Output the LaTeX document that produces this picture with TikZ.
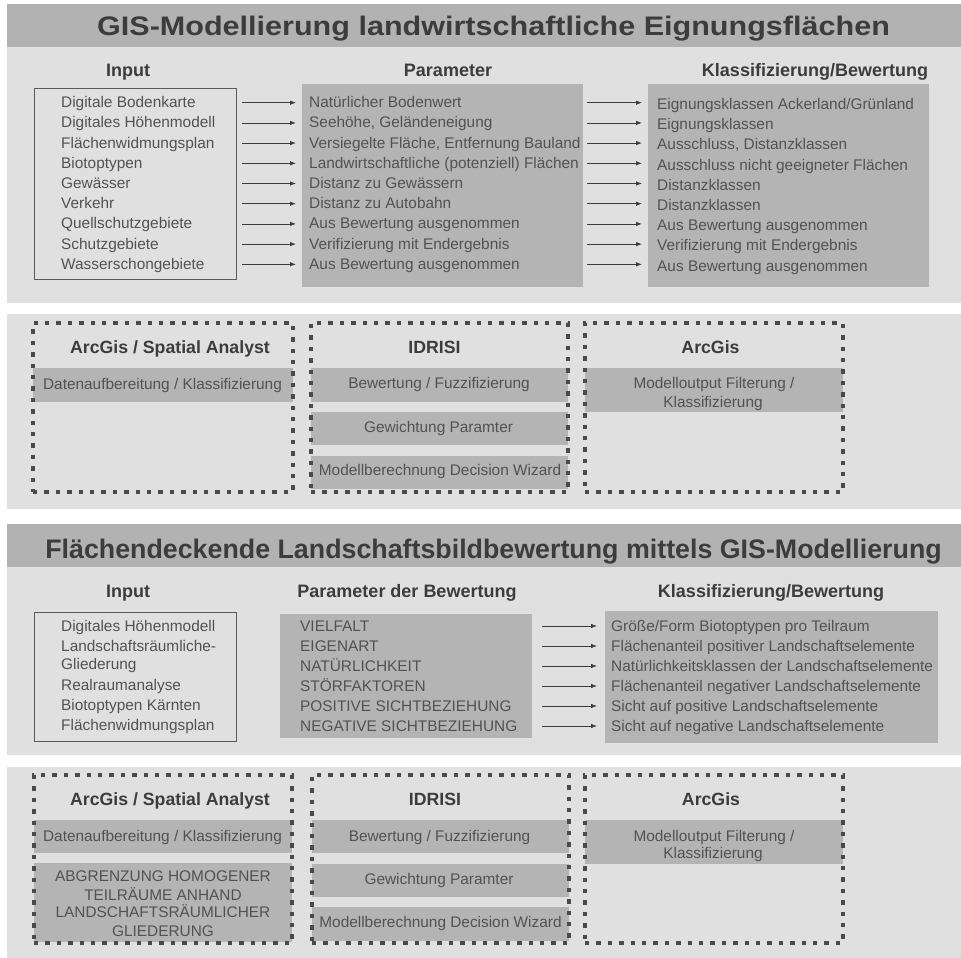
\documentclass[tikz,border=0pt]{standalone}
\usepackage{fontspec}
\setmainfont{Liberation Sans}
\usetikzlibrary{arrows.meta}
\definecolor{panel}{HTML}{E0E0E0}
\definecolor{band}{HTML}{B2B2B2}
\definecolor{boxg}{HTML}{B4B4B4}
\definecolor{txt}{HTML}{525252}
\definecolor{ttl}{HTML}{3C3C3C}
\definecolor{dotc}{HTML}{4A4A4A}
\definecolor{lin}{HTML}{5A5A5A}
\tikzset{
  rectat/.style 2 args={minimum width=#1, minimum height=#2, anchor=north west, inner sep=0pt, outer sep=0pt},
  row/.style={font=\fontsize{15.4}{18.5}\selectfont, text=txt, inner sep=0pt, anchor=west, text height=11pt, text depth=1pt},
  ctr/.style={row, anchor=center},
  hdr/.style={font=\bfseries\fontsize{18}{20}\selectfont, text=ttl, inner sep=0pt, text height=13pt, text depth=0pt},
  btitle/.style={font=\bfseries\fontsize{17.7}{20}\selectfont, text=ttl, inner sep=0pt, text height=12.7pt, text depth=0pt},
  bigtitle/.style={font=\bfseries\fontsize{26.8}{30}\selectfont, text=ttl, inner sep=0pt, text height=19.2pt, text depth=0pt},
  grayfill/.style={fill=boxg, draw=none},
  inframe/.style={draw=lin, line width=0.9pt},
  dotframe/.style={draw=dotc, line width=4.4pt, dash pattern=on 4.4pt off 7pt},
  arr/.style={draw=ttl, line width=0.8pt, -{Latex[length=6pt,width=4.5pt]}},
}
\begin{document}
\begin{tikzpicture}[x=1pt,y=-1pt]
\path[use as bounding box] (0,0) rectangle (961,958);
\fill[white] (0,0) rectangle (961,958);
% backgrounds
\fill[band] (7,4) rectangle (961,47);
\fill[panel] (7,47) rectangle (961,303);
\fill[panel] (7,314) rectangle (961,509);
\fill[band] (7,524) rectangle (961,567);
\fill[panel] (7,567) rectangle (961,755);
\fill[panel] (7,767) rectangle (961,958);

% ===== Section 1 =====
\node[bigtitle] (title1) at (493.5,26.4) {\scalebox{1.14}[1]{GIS-Modellierung landwirtschaftliche Eignungsflächen}};
\node[hdr] (h1in) at (128,70.5) {Input};
\node[hdr] (h1par) at (448,70.5) {Parameter};
\node[hdr] (h1kl) at (815,70.5) {Klassifizierung/Bewertung};

\node[rectat={202pt}{191pt}, inframe] (in1) at (34,88) {};
\node[rectat={281pt}{203pt}, grayfill] (par1) at (302,84) {};
\node[rectat={281pt}{203pt}, grayfill] (kl1) at (648,84) {};

\foreach \t [count=\i from 0] in {Digitale Bodenkarte, Digitales Höhenmodell, Flächenwidmungsplan, Biotoptypen, Gewässer, Verkehr, Quellschutzgebiete, Schutzgebiete, Wasserschongebiete}
  \node[row] (i1-\i) at (61,102.7+20.2*\i) {\t};
\foreach \t [count=\i from 0] in {Natürlicher Bodenwert, {Seehöhe, Geländeneigung}, {Versiegelte Fläche, Entfernung Bauland}, Landwirtschaftliche (potenziell) Flächen, Distanz zu Gewässern, Distanz zu Autobahn, Aus Bewertung ausgenommen, Verifizierung mit Endergebnis, Aus Bewertung ausgenommen}
  \node[row] (p1-\i) at (309,102.7+20.2*\i) {\t};
\foreach \t [count=\i from 0] in {Eignungsklassen Ackerland/Grünland, Eignungsklassen, {Ausschluss, Distanzklassen}, Ausschluss nicht geeigneter Flächen, Distanzklassen, Distanzklassen, Aus Bewertung ausgenommen, Verifizierung mit Endergebnis, Aus Bewertung ausgenommen}
  \node[row] (k1-\i) at (657,104.5+20.2*\i) {\t};
\foreach \i in {0,...,8} {
  \draw[arr] ([xshift=6pt]in1.east |- p1-\i.west) -- ([xshift=-6pt]par1.west |- p1-\i.west);
  \draw[arr] ([xshift=4pt]par1.east |- p1-\i.west) -- ([xshift=-6pt]kl1.west |- p1-\i.west);
}

% ===== Section 2 =====
\node[rectat={260pt}{34pt}, grayfill] (ba1) at (33,368) {};
\node[ctr] (ta1) at (162.5,384.5) {Datenaufbereitung / Klassifizierung};
\node[rectat={257pt}{34pt}, grayfill] (bb1) at (311,368) {};
\node[ctr] (tb1) at (439,383.8) {Bewertung / Fuzzifizierung};
\node[rectat={257pt}{33pt}, grayfill] (bb2) at (311,412) {};
\node[ctr] (tb2) at (438.5,427) {Gewichtung Paramter};
\node[rectat={257pt}{33pt}, grayfill] (bb3) at (311,456) {};
\node[ctr] (tb3) at (440,470.5) {Modellberechnung Decision Wizard};
\node[rectat={258pt}{44pt}, grayfill] (bc1) at (585,368) {};
\node[ctr] (tc1) at (714,383.5) {Modelloutput Filterung /};
\node[ctr] (tc2) at (713,402) {Klassifizierung};

\node[rectat={260pt}{169pt}, dotframe] (fa) at (33,323) {};
\node[rectat={257pt}{169pt}, dotframe] (fb) at (311,323) {};
\node[rectat={258pt}{169pt}, dotframe] (fc) at (585,323) {};
\node[btitle] (sa) at (170,347.6) {ArcGis / Spatial Analyst};
\node[btitle] (sb) at (434.5,347.6) {IDRISI};
\node[btitle] (sc) at (710.5,347.6) {ArcGis};

% ===== Section 3 =====
\node[bigtitle] (title2) at (493.5,548.4) {Flächendeckende Landschaftsbildbewertung mittels GIS-Modellierung};
\node[hdr] (h2in) at (128,590.5) {Input};
\node[hdr] (h2par) at (407,590.5) {Parameter der Bewertung};
\node[hdr] (h2kl) at (771,590.5) {Klassifizierung/Bewertung};

\node[rectat={202pt}{129pt}, inframe] (in2) at (34,612) {};
\node[rectat={252pt}{124pt}, grayfill] (par2) at (280,614) {};
\node[rectat={333pt}{132pt}, grayfill] (kl2) at (605,611) {};

\node[row] (i2-0) at (61,626) {Digitales Höhenmodell};
\node[row] (i2-1) at (61,646) {Landschaftsräumliche-};
\node[row] (i2-2) at (61,664.5) {Gliederung};
\node[row] (i2-3) at (61,685) {Realraumanalyse};
\node[row] (i2-4) at (61,705) {Biotoptypen Kärnten};
\node[row] (i2-5) at (61,725) {Flächenwidmungsplan};

\foreach \t [count=\i from 0] in {VIELFALT, EIGENART, NATÜRLICHKEIT, STÖRFAKTOREN, POSITIVE SICHTBEZIEHUNG, NEGATIVE SICHTBEZIEHUNG}
  \node[row] (p2-\i) at (300,626+20*\i) {\t};
\foreach \t [count=\i from 0] in {Größe/Form Biotoptypen pro Teilraum, Flächenanteil positiver Landschaftselemente, Natürlichkeitsklassen der Landschaftselemente, Flächenanteil negativer Landschaftselemente, Sicht auf positive Landschaftselemente, Sicht auf negative Landschaftselemente}
  \node[row] (k2-\i) at (611,626+20.1*\i) {\t};
\foreach \i in {0,...,5}
  \draw[arr] ([xshift=10pt]par2.east |- p2-\i.west) -- ([xshift=-8pt]kl2.west |- p2-\i.west);

% ===== Section 4 =====
\node[rectat={258pt}{33pt}, grayfill] (da1) at (34,820) {};
\node[ctr] (ua1) at (162.5,836) {Datenaufbereitung / Klassifizierung};
\node[rectat={258pt}{79pt}, grayfill] (da2) at (34,863) {};
\node[ctr] (ua2) at (163,876.7) {ABGRENZUNG HOMOGENER};
\node[ctr] (ua3) at (163,895) {TEILRÄUME ANHAND};
\node[ctr] (ua4) at (163,912.7) {LANDSCHAFTSRÄUMLICHER};
\node[ctr] (ua5) at (163,931) {GLIEDERUNG};
\node[rectat={257pt}{33pt}, grayfill] (db1) at (312,820) {};
\node[ctr] (ub1) at (439.5,836) {Bewertung / Fuzzifizierung};
\node[rectat={257pt}{33pt}, grayfill] (db2) at (312,864) {};
\node[ctr] (ub2) at (439,879) {Gewichtung Paramter};
\node[rectat={257pt}{34pt}, grayfill] (db3) at (312,907) {};
\node[ctr] (ub3) at (440.5,922) {Modellberechnung Decision Wizard};
\node[rectat={258pt}{44pt}, grayfill] (dc1) at (585,820) {};
\node[ctr] (uc1) at (714,836) {Modelloutput Filterung /};
\node[ctr] (uc2) at (713,853.3) {Klassifizierung};

\node[rectat={258pt}{168pt}, dotframe] (ga) at (34,775) {};
\node[rectat={257pt}{168pt}, dotframe] (gb) at (312,775) {};
\node[rectat={258pt}{168pt}, dotframe] (gc) at (585,775) {};
\node[btitle] (va) at (170,799.6) {ArcGis / Spatial Analyst};
\node[btitle] (vb) at (435,799.6) {IDRISI};
\node[btitle] (vc) at (711,799.6) {ArcGis};
\end{tikzpicture}
\end{document}
